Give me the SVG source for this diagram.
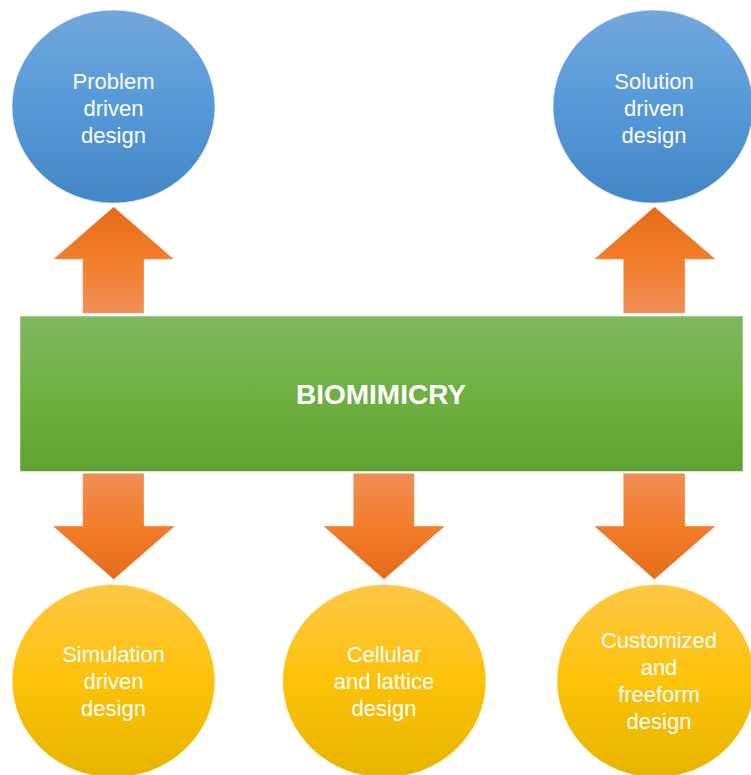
<svg xmlns="http://www.w3.org/2000/svg" width="751" height="775" viewBox="0 0 751 775">
  <defs>
    <linearGradient id="gBlue" x1="0" y1="0" x2="0" y2="1">
      <stop offset="0" stop-color="#72a7dc"/>
      <stop offset="0.5" stop-color="#5599d8"/>
      <stop offset="1" stop-color="#4386c7"/>
    </linearGradient>
    <linearGradient id="gGold" x1="0" y1="0" x2="0" y2="1">
      <stop offset="0" stop-color="#ffc744"/>
      <stop offset="0.5" stop-color="#fdc20a"/>
      <stop offset="1" stop-color="#e6b400"/>
    </linearGradient>
    <linearGradient id="gGreen" x1="0" y1="0" x2="0" y2="1">
      <stop offset="0" stop-color="#81b862"/>
      <stop offset="0.5" stop-color="#6fb041"/>
      <stop offset="1" stop-color="#61a234"/>
    </linearGradient>
    <linearGradient id="gUp" x1="0" y1="0" x2="0" y2="1">
      <stop offset="0" stop-color="#e46b1a"/>
      <stop offset="0.5" stop-color="#f37d2b"/>
      <stop offset="1" stop-color="#f08e56"/>
    </linearGradient>
    <linearGradient id="gDown" x1="0" y1="0" x2="0" y2="1">
      <stop offset="0" stop-color="#f08e56"/>
      <stop offset="0.5" stop-color="#f37d2b"/>
      <stop offset="1" stop-color="#e46b1a"/>
    </linearGradient>
  </defs>
  <style>
    .blue { fill: url(#gBlue); stroke: #ffffff; stroke-opacity: 0.5; stroke-width: 1; }
    .gold { fill: url(#gGold); stroke: #ffffff; stroke-opacity: 0.5; stroke-width: 1; }
    .core { fill: url(#gGreen); stroke: #ffffff; stroke-opacity: 0.5; stroke-width: 1; }
    .up { fill: url(#gUp); stroke: #ffffff; stroke-opacity: 0.4; stroke-width: 0.8; }
    .down { fill: url(#gDown); stroke: #ffffff; stroke-opacity: 0.4; stroke-width: 0.8; }
    .lbl { font-family: "Liberation Sans", Arial, sans-serif; font-size: 22px; fill: #ffffff; text-anchor: middle; }
    .title { font-family: "Liberation Sans", Arial, sans-serif; font-size: 28px; font-weight: bold; fill: #ffffff; text-anchor: middle; }
  </style>
  <rect width="751" height="775" fill="#ffffff"/>

  <!-- block arrows linking the core to each design approach -->
  <g id="connectors">
    <path class="up" d="M113.7,206.7 L174,259.3 L144,259.3 L144,313.3 L82.7,313.3 L82.7,259.3 L53.3,259.3 Z"/>
    <path class="up" d="M654.5,206.7 L715.7,259.3 L685,259.3 L685,313.3 L623.3,313.3 L623.3,259.3 L594,259.3 Z"/>
    <path class="down" d="M82.7,473.3 L144,473.3 L144,526 L175,526 L113.7,579.5 L52.7,526 L82.7,526 Z"/>
    <path class="down" d="M353.3,473.3 L414.3,473.3 L414.3,526 L445,526 L384,579.5 L323.3,526 L353.3,526 Z"/>
    <path class="down" d="M623.3,473.3 L685,473.3 L685,526 L715.7,526 L654.5,579.5 L594,526 L623.3,526 Z"/>
  </g>

  <g id="biomimicry">
    <rect class="core" x="20" y="316" width="723" height="155.5"/>
    <text class="title" x="381" y="404">BIOMIMICRY</text>
  </g>

  <g id="problem-driven">
    <ellipse class="blue" cx="113.5" cy="106.5" rx="101.5" ry="96.5"/>
    <text class="lbl" x="113.5" y="89">Problem</text>
    <text class="lbl" x="113.5" y="116">driven</text>
    <text class="lbl" x="113.5" y="143">design</text>
  </g>

  <g id="solution-driven">
    <ellipse class="blue" cx="653" cy="106.5" rx="100" ry="96.5"/>
    <text class="lbl" x="654" y="89">Solution</text>
    <text class="lbl" x="654" y="116">driven</text>
    <text class="lbl" x="654" y="143">design</text>
  </g>

  <g id="simulation-driven">
    <ellipse class="gold" cx="113.5" cy="681" rx="101.5" ry="96.5"/>
    <text class="lbl" x="113.5" y="662">Simulation</text>
    <text class="lbl" x="113.5" y="689">driven</text>
    <text class="lbl" x="113.5" y="716">design</text>
  </g>

  <g id="cellular-lattice">
    <ellipse class="gold" cx="384.3" cy="681" rx="101.7" ry="96.5"/>
    <text class="lbl" x="384" y="662">Cellular</text>
    <text class="lbl" x="384" y="689">and lattice</text>
    <text class="lbl" x="384" y="716">design</text>
  </g>

  <g id="customized-freeform">
    <ellipse class="gold" cx="656" cy="681" rx="99" ry="96.5"/>
    <text class="lbl" x="659" y="648">Customized</text>
    <text class="lbl" x="659" y="675">and</text>
    <text class="lbl" x="659" y="702">freeform</text>
    <text class="lbl" x="659" y="729">design</text>
  </g>
</svg>
